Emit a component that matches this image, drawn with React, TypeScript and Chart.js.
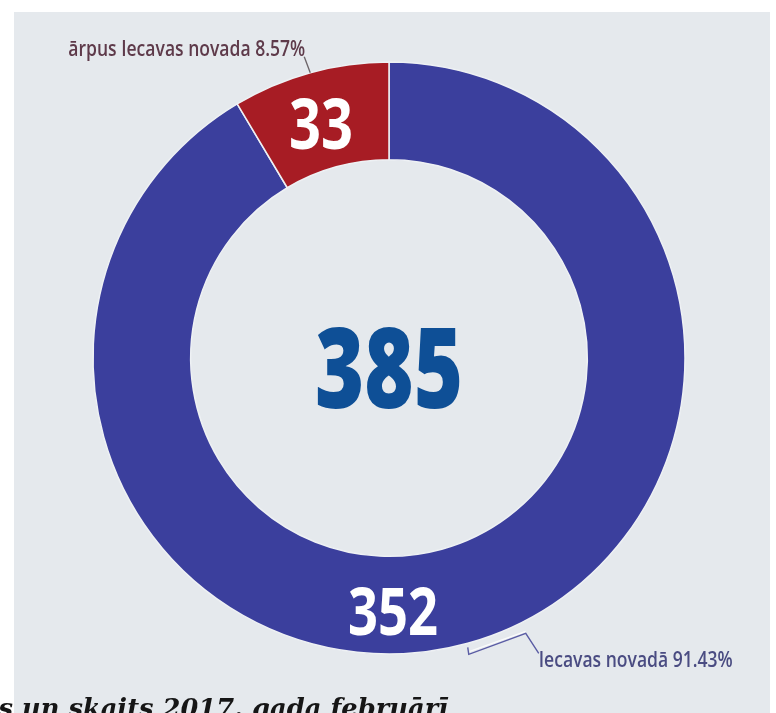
import React, { useEffect, useRef } from "react";
import { Chart, registerables } from "chart.js";

Chart.register(...registerables);

// ---- data ----
const categories = ["Iecavas novadā", "ārpus Iecavas novada"];
const counts = [352, 33];
const segmentColors = ["#3b3f9d", "#a71c24"];
const labelColors = ["#4a4c82", "#5e3a4a"];
const leaderColors = ["#5a5ca4", "#6b6468"];
const captionText = "s un skaits 2017. gada februārī";

// ---- layout / style constants ----
const W = 776;
const H = 713;
const OUTER_R = 296;
const PANEL = { x: 14, y: 12, w: 756, h: 701, color: "#e5e9ed" };

function fitText(
  ctx: CanvasRenderingContext2D,
  text: string,
  x: number,
  y: number,
  font: string,
  width: number,
  align: "left" | "center" | "right",
  color: string
) {
  ctx.save();
  ctx.font = font;
  const m = ctx.measureText(text).width;
  const s = width / m;
  let x0 = x;
  if (align === "center") x0 = x - width / 2;
  else if (align === "right") x0 = x - width;
  ctx.translate(x0, y);
  ctx.scale(s, 1);
  ctx.textAlign = "left";
  ctx.textBaseline = "alphabetic";
  ctx.fillStyle = color;
  ctx.fillText(text, 0, 0);
  ctx.restore();
}

const backgroundPlugin = {
  id: "panelBackground",
  beforeDraw(chart: any) {
    const ctx = chart.ctx as CanvasRenderingContext2D;
    ctx.save();
    ctx.fillStyle = "#ffffff";
    ctx.fillRect(0, 0, chart.width, chart.height);
    ctx.fillStyle = PANEL.color;
    ctx.fillRect(PANEL.x, PANEL.y, PANEL.w, PANEL.h);
    ctx.restore();
  },
};

const labelsPlugin = {
  id: "donutLabels",
  afterDraw(chart: any) {
    const ctx = chart.ctx as CanvasRenderingContext2D;
    const meta = chart.getDatasetMeta(0);
    const arcs = meta.data;
    const values: number[] = chart.data.datasets[0].data;
    const total = values.reduce((a, b) => a + b, 0);
    const a0 = arcs[0].getProps(["x", "y", "startAngle", "endAngle", "innerRadius", "outerRadius"], true);
    const cx = a0.x;
    const cy = a0.y;

    // centre total
    fitText(ctx, String(total), cx, cy + 50, "800 112px 'Open Sans'", 148, "center", "#0e4f96");

    // big segment number at bottom of ring
    fitText(ctx, String(values[0]), cx + 4, cy + 277, "bold 67px 'Open Sans'", 90, "center", "#ffffff");

    // small segment number at its mid angle
    const a1 = arcs[1].getProps(["x", "y", "startAngle", "endAngle", "innerRadius", "outerRadius"], true);
    const mid1 = (a1.startAngle + a1.endAngle) / 2;
    const r1 = 244;
    fitText(
      ctx,
      String(values[1]),
      cx + r1 * Math.cos(mid1) - 3,
      cy + r1 * Math.sin(mid1) + 26,
      "bold 70px 'Open Sans'",
      64,
      "center",
      "#ffffff"
    );

    const pct = (v: number) => ((v / total) * 100).toFixed(2) + "%";

    // small segment leader + label
    {
      const R = a1.outerRadius;
      const px = cx + R * Math.cos(mid1);
      const py = cy + R * Math.sin(mid1);
      ctx.save();
      ctx.strokeStyle = leaderColors[1];
      ctx.lineWidth = 1.3;
      ctx.beginPath();
      ctx.moveTo(px, py);
      ctx.lineTo(px - 6, py - 16);
      ctx.stroke();
      ctx.restore();
      fitText(ctx, categories[1] + " " + pct(values[1]), px - 5, py - 17, "600 21px 'Open Sans'", 237, "right", labelColors[1]);
    }

    // big segment leader + label
    {
      const mid0 = (a0.startAngle + a0.endAngle) / 2;
      const R = a0.outerRadius;
      const px = cx + R * Math.cos(mid0);
      const py = cy + R * Math.sin(mid0);
      ctx.save();
      ctx.strokeStyle = "rgba(255,255,255,0.8)";
      ctx.lineWidth = 1.2;
      ctx.beginPath();
      ctx.moveTo(px + 2, py + 8);
      ctx.lineTo(px + 58, py - 12);
      ctx.stroke();
      ctx.strokeStyle = leaderColors[0];
      ctx.lineWidth = 1.4;
      ctx.beginPath();
      ctx.moveTo(px, py + 4);
      ctx.lineTo(px + 1, py + 11);
      ctx.lineTo(px + 58, py - 10);
      ctx.lineTo(px + 71, py + 10);
      ctx.stroke();
      ctx.restore();
      fitText(ctx, categories[0] + " " + pct(values[0]), px + 71, py + 24, "600 21px 'Open Sans'", 194, "left", labelColors[0]);
    }

    // cut-off caption at bottom
    {
      ctx.save();
      const font = "italic bold 26px 'DejaVu Serif'";
      ctx.font = font;
      const rest = captionText.slice(2);
      const wRest = ctx.measureText(rest).width;
      const s = 426 / wRest;
      const pre = ctx.measureText(captionText.slice(0, 2)).width * s;
      ctx.restore();
      const full = 426 + pre;
      fitText(ctx, captionText, 22 - pre, 717, font, full, "left", "#161616");
    }
  },
};

export default function App() {
  const canvasRef = useRef<HTMLCanvasElement | null>(null);

  useEffect(() => {
    if (!canvasRef.current) return;
    const chart = new Chart(canvasRef.current, {
      type: "doughnut",
      data: {
        labels: categories,
        datasets: [
          {
            data: counts,
            backgroundColor: segmentColors,
            borderColor: "#eef1f4",
            borderWidth: 1.5,
          },
        ],
      },
      options: {
        responsive: false,
        animation: false,
        events: [],
        rotation: 0,
        cutout: "67%",
        radius: OUTER_R,
        layout: { padding: { left: 2, top: 3, right: 0, bottom: 0 } },
        plugins: {
          legend: { display: false },
          tooltip: { enabled: false },
        },
      } as any,
      plugins: [backgroundPlugin, labelsPlugin],
    });
    return () => chart.destroy();
  }, []);

  return (
    <div style={{ position: "fixed", left: 0, top: 0, width: W, height: H, overflow: "hidden" }}>
      <canvas ref={canvasRef} width={W} height={H} style={{ display: "block", width: W, height: H }} />
    </div>
  );
}
